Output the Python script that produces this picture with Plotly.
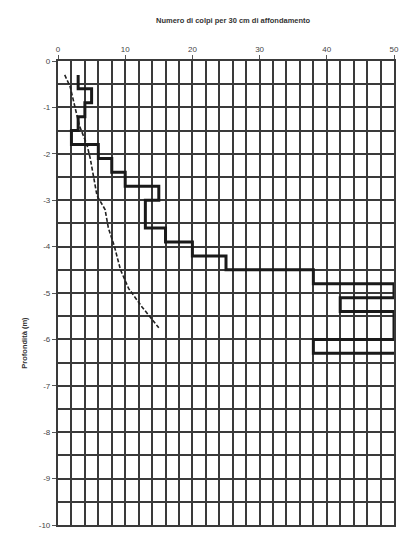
import plotly.graph_objects as go

# Penetrometer blows per 30 cm interval
interval_top = [0.3, 0.6, 0.9, 1.2, 1.5, 1.8, 2.1, 2.4, 2.7, 3.0,
                3.3, 3.6, 3.9, 4.2, 4.5, 4.8, 5.1, 5.4, 5.7, 6.0]
interval_bottom = [0.6, 0.9, 1.2, 1.5, 1.8, 2.1, 2.4, 2.7, 3.0, 3.3,
                   3.6, 3.9, 4.2, 4.5, 4.8, 5.1, 5.4, 5.7, 6.0, 6.3]
blows = [3, 5, 4, 3, 2, 6, 8, 10, 15, 13,
         13, 16, 20, 25, 38, 50, 42, 50, 50, 38]
final_blows = 50

# Dashed curve
dash_x = [1.0, 1.8, 2.7, 3.2, 4.3, 4.8, 5.3, 5.8, 7.0, 7.5, 8.4, 9.3, 10.5, 12.5, 15.0]
dash_depth = [0.3, 0.55, 1.1, 1.4, 1.8, 2.1, 2.5, 2.9, 3.2, 3.6, 4.0, 4.5, 4.9, 5.3, 5.75]

x_ticks = [0, 10, 20, 30, 40, 50]
y_ticks = [0, -1, -2, -3, -4, -5, -6, -7, -8, -9, -10]
y_tick_labels = ["0", "-1", "-2", "-3", "-4", "-5", "-6", "-7", "-8", "-9", "-10"]

title_text = "Numero di colpi per 30 cm di affondamento"
y_title = "Profondità (m)"

# build step path
sx, sy = [], []
for i, v in enumerate(blows):
    sx += [v, v]
    sy += [-interval_top[i], -interval_bottom[i]]
sx.append(final_blows)
sy.append(-interval_bottom[-1])

fig = go.Figure()
fig.add_trace(go.Scatter(x=dash_x, y=[-d for d in dash_depth], mode="lines",
                         line=dict(color="#222", width=1.6, dash="4px,2px"),
                         hoverinfo="skip"))
fig.add_trace(go.Scatter(x=sx, y=sy, mode="lines",
                         line=dict(color="#1a1a1a", width=3),
                         hoverinfo="skip"))

grid_col = "#3a3a3a"
fig.update_layout(
    width=404, height=535,
    margin=dict(l=58, r=5, t=61, b=8),
    paper_bgcolor="white", plot_bgcolor="white",
    showlegend=False,
    font=dict(family="Liberation Sans, Arial", size=8, color="#333"),
    xaxis=dict(side="top", range=[0, 50], tickvals=x_ticks,
               showgrid=True, gridcolor=grid_col, gridwidth=2.2,
               minor=dict(dtick=2, tick0=0, showgrid=True, gridcolor=grid_col, gridwidth=1.8),
               ticks="outside", ticklen=4, tickcolor="#555",
               showline=True, linecolor=grid_col, linewidth=2.2, mirror=True,
               zeroline=False, tickfont=dict(size=8, color="#444")),
    yaxis=dict(range=[-10, 0], tickvals=y_ticks, ticktext=y_tick_labels,
               showgrid=True, gridcolor=grid_col, gridwidth=2.2,
               minor=dict(dtick=0.5, tick0=0, showgrid=True, gridcolor=grid_col, gridwidth=1.8),
               ticks="outside", ticklen=4, tickcolor="#555",
               showline=True, linecolor=grid_col, linewidth=2.2, mirror=True,
               zeroline=False, tickfont=dict(size=8, color="#444")),
    annotations=[
        dict(text="<b>" + title_text + "</b>", xref="paper", yref="paper",
             x=0.522, y=1.0, yshift=47, showarrow=False,
             font=dict(size=7.5, color="#333")),
        dict(text="<b>" + y_title + "</b>", xref="paper", yref="paper",
             x=-0.12, y=0.333, textangle=-90, showarrow=False,
             font=dict(size=7.5, color="#333")),
    ],
)

fig.write_html("out.html")
